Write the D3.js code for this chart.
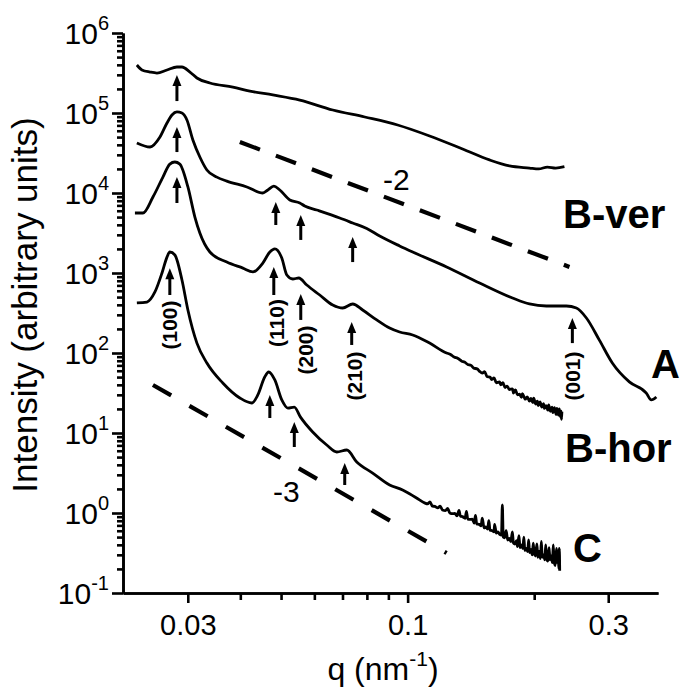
<!DOCTYPE html>
<html>
<head>
<meta charset="utf-8">
<script src="https://cdn.jsdelivr.net/npm/d3@7"></script>
<style>
body { margin: 0; background: #fff; }
svg { font-family: Arial, "Liberation Sans", sans-serif; }
</style>
</head>
<body>
<div id="viz"></div>
<script>
// curves: [q (nm^-1), intensity]
var curveBver = [
  [0.0227,3.98e5],[0.02334,3.45e5],[0.0244,3.25e5],[0.02534,3.16e5],[0.02677,3.45e5],
  [0.02827,3.76e5],[0.02906,3.76e5],[0.03036,3.25e5],[0.03154,2.74e5],[0.03386,2.37e5],
  [0.0384,2.11e5],[0.04215,1.88e5],[0.04779,1.68e5],[0.0554,1.45e5],[0.06636,1.09e5],
  [0.07906,8.91e4],[0.09467,7.08e4],[0.1128,5.16e4],[0.1351,3.55e4],[0.1566,2.59e4],
  [0.1747,2.18e4],[0.1949,2.05e4],[0.205,2.0e4],[0.215,2.11e4],[0.225,2.05e4],[0.236,2.13e4]
];
var curveA = [
  [0.0227,4.22e4],[0.0244,3.76e4],[0.02576,5.01e4],[0.02677,7.5e4],[0.02751,9.44e4],
  [0.02827,1.03e5],[0.02906,1.0e5],[0.02986,8.18e4],[0.03085,4.6e4],[0.03205,2.82e4],
  [0.03331,1.94e4],[0.03518,1.58e4],[0.03715,1.41e4],[0.04147,1.19e4],[0.04524,1.0e4],
  [0.0465,1.09e4],[0.04805,1.22e4],[0.04966,1.09e4],[0.05245,8.18e3],[0.0554,7.5e3],
  [0.05691,6.88e3],[0.06079,6.13e3],[0.06895,4.87e3],[0.07401,4.22e3],[0.07995,3.6e3],
  [0.08582,2.9e3],[0.0957,2.18e3],[0.1028,1.83e3],[0.1238,1.19e3],[0.1483,750],
  [0.1776,487],[0.1949,410],[0.2138,387],[0.2386,387],[0.252,365],[0.2662,274],
  [0.2858,145],[0.3068,75],[0.3368,43.5],[0.3696,31.6],[0.3799,25.9],[0.3905,28.2]
];
var curveBhor = [
  [0.02246,5.62e3],[0.02347,5.62e3],[0.02479,8.91e3],[0.02618,1.58e4],[0.02719,2.3e4],
  [0.02795,2.44e4],[0.02872,2.3e4],[0.03002,1.19e4],[0.03119,5.01e3],[0.03205,3.16e3],
  [0.03386,1.83e3],[0.03715,1.37e3],[0.04057,1.15e3],[0.04286,1.03e3],[0.04524,1.33e3],
  [0.04702,1.83e3],[0.04832,2.0e3],[0.0502,1.54e3],[0.05161,944],[0.05332,841],
  [0.0551,866],[0.05757,708],[0.0618,531],[0.06636,398],[0.07009,365],[0.07401,410],
  [0.07817,345],[0.08443,259],[0.09062,205],[0.0957,183],[0.1028,168],[0.1128,133],
  [0.1238,100],[0.1265,96],[0.129,89],[0.1315,86],[0.1345,79],[0.1365,77],[0.139,72],
  [0.1415,70],[0.1435,65],[0.1465,63],[0.1483,59],[0.1505,56],[0.1525,58.5],[0.1545,50.5],
  [0.157,50],[0.1585,46.5],[0.1605,49],[0.1625,42.5],[0.1654,43.5],[0.1665,40],[0.1685,42.5],
  [0.1705,37],[0.1725,38.5],[0.1745,35],[0.1776,35.5],[0.1785,31.5],[0.1805,34.5],[0.1825,30],
  [0.1845,30.5],[0.1865,28],[0.1875,31],[0.1905,26.5],[0.1925,28.3],[0.1949,25],
  [0.1965,27],[0.1985,24],[0.1995,27.3],[0.2015,23],[0.2035,25],[0.2045,22],
  [0.2065,24.5],[0.2085,21],[0.2105,23.3],[0.2115,20.3],[0.2135,22],[0.2155,19.3],
  [0.2165,22.5],[0.2185,18.7],[0.2205,21],[0.2215,18],[0.2235,20.7],[0.2255,17],
  [0.2265,20.3],[0.2285,16.7],[0.2295,20],[0.2308,16],[0.2318,18.7],[0.2322,14.8],
  [0.2328,18.5]
];
var curveC = [
  [0.0227,422],[0.02399,434],[0.02506,579],[0.02605,1000],[0.02677,1.58e3],
  [0.02719,1.83e3],[0.02795,1.68e3],[0.02906,818],[0.03002,345],[0.03154,133],
  [0.03331,75],[0.03634,42.2],[0.0399,27.4],[0.04261,23.7],[0.04402,29.9],
  [0.04572,50.1],[0.04673,57.9],[0.04832,46],[0.0502,25.9],[0.05189,20.5],
  [0.05376,21.1],[0.05562,15.8],[0.05946,10.3],[0.06422,7.08],[0.06785,5.79],
  [0.07166,6.13],[0.07568,4.34],[0.08258,3.16],[0.09062,2.24],[0.0973,1.94],
  [0.105,1.54],[0.11,1.33],[0.1115,1.3],[0.113,1.38],[0.1145,1.22],[0.116,1.21],
  [0.118,1.16],[0.1195,1.22],[0.121,1.09],[0.123,1.07],[0.1245,1.14],[0.126,1.0],
  [0.128,0.98],[0.1295,0.99],[0.131,0.92],[0.1325,1.08],[0.1335,0.91],[0.135,0.9],
  [0.137,0.86],[0.138,1.05],[0.139,0.84],[0.141,0.83],[0.1425,0.84],[0.144,0.75],
  [0.145,0.93],[0.146,0.73],[0.148,0.72],[0.1495,0.69],[0.1505,0.86],[0.152,0.65],
  [0.1535,0.67],[0.155,0.63],[0.156,0.8],[0.157,0.61],[0.159,0.6],[0.1605,0.58],
  [0.161,0.72],[0.1625,0.56],[0.164,0.58],[0.1655,0.54],[0.1672,0.53],[0.168,1.26],
  [0.1688,0.5],[0.17,0.49],[0.1715,0.6],[0.173,0.46],[0.1745,0.48],[0.176,0.44],
  [0.1775,0.58],[0.1785,0.42],[0.18,0.41],[0.1815,0.45],[0.1825,0.38],[0.184,0.52],
  [0.185,0.37],[0.1865,0.4],[0.188,0.36],[0.189,0.5],[0.19,0.34],[0.1915,0.36],
  [0.193,0.33],[0.194,0.46],[0.195,0.32],[0.1965,0.35],[0.198,0.3],[0.199,0.42],
  [0.2,0.31],[0.2015,0.29],[0.203,0.41],[0.204,0.28],[0.2055,0.33],[0.207,0.27],
  [0.208,0.44],[0.209,0.28],[0.2105,0.3],[0.212,0.26],[0.213,0.4],[0.214,0.27],
  [0.2155,0.25],[0.217,0.37],[0.218,0.26],[0.2195,0.29],[0.221,0.24],[0.222,0.4],
  [0.223,0.25],[0.2245,0.22],[0.226,0.36],[0.227,0.24],[0.228,0.29],[0.229,0.2],
  [0.2295,0.36],[0.23,0.19]
];
var curves = [curveBver, curveA, curveBhor, curveC];
var curveNames = ["B-ver", "A", "B-hor", "C"];

// arrows: [q, intensity at tip, intensity at tail]
var arrows = [
  [0.02827,2.99e5,1.41e5],
  [0.02827,6.68e4,3.25e4],[0.04858,7.72e3,3.98e3],[0.0557,5.31e3,2.59e3],
  [0.07401,2.82e3,1.37e3],[0.2465,274,133],
  [0.02827,1.58e4,7.5e3],[0.04805,1.19e3,531],[0.0557,546,259],[0.07362,244,126],
  [0.02719,1.15e3,531],[0.04702,29.9,15.4],[0.05376,13.7,6.68],[0.07086,4.22,2.24]
];
// reflection labels: [text, q, intensity]
var peakLabels = [
  ["(100)",0.02719,224],["(110)",0.04884,237],["(200)",0.05725,109],
  ["(210)",0.07484,51.6],["(001)",0.2465,51.6]
];
// power-law guides: [[q0, I0], [q1, I1]]
var slope2 = [[0.0399,4.34e4],[0.2426,1.19e3]];
var slope3 = [[0.02479,39.8],[0.1238,0.316]];

var xMajor = [0.03, 0.1, 0.3];
var xMinor = [0.04, 0.05, 0.06, 0.07, 0.08, 0.09, 0.2];
var yMajor = [1e-1, 1e0, 1e1, 1e2, 1e3, 1e4, 1e5, 1e6];
var yExp = ["-1", "0", "1", "2", "3", "4", "5", "6"];

var width = 683, height = 690;
var svg = d3.select('#viz').append('svg')
    .attr('width', width)
    .attr('height', height);

var x = d3.scaleLog().domain([0.02104, 0.394]).range([123, 658]);
var y = d3.scaleLog().domain([0.1, 1e6]).range([593, 33]);

var yMinor = [];
yMajor.slice(0, -1).forEach(function(d) {
    for (var k = 2; k < 10; k++) yMinor.push(d * k);
});

// axes
var gx = svg.append('g').attr('transform', 'translate(0,593)');
gx.call(d3.axisBottom(x).tickValues(xMinor).tickSize(7).tickSizeOuter(0).tickFormat(''));
gx.append('g').call(d3.axisBottom(x).tickValues(xMajor).tickSize(10).tickSizeOuter(0)
    .tickFormat(d3.format('')));
gx.selectAll('path,line').attr('stroke', '#000').attr('stroke-width', 2.6);
gx.selectAll('text').attr('fill', '#000').style('font-size', '29px').attr('dy', '0.95em')
    .attr('y', 14);

var gy = svg.append('g').attr('transform', 'translate(123,0)');
gy.call(d3.axisLeft(y).tickValues(yMinor).tickSize(6).tickSizeOuter(0).tickFormat(''));
gy.append('g').call(d3.axisLeft(y).tickValues(yMajor).tickSize(11).tickSizeOuter(0).tickFormat(''));
gy.selectAll('path,line').attr('stroke', '#000').attr('stroke-width', 2.6);

yMajor.forEach(function(v, i) {
    var t = svg.append('text')
        .attr('x', 109)
        .attr('y', y(v) + 11)
        .attr('text-anchor', 'end')
        .style('font-size', '30px');
    t.append('tspan').text('10');
    t.append('tspan').attr('dy', -14).style('font-size', '20px').text(yExp[i]);
});

// axis titles
svg.append('text')
    .attr('transform', 'translate(37,305) rotate(-90)')
    .attr('text-anchor', 'middle')
    .style('font-size', '35px')
    .text('Intensity (arbitrary units)');

var xt = svg.append('text')
    .attr('x', 383)
    .attr('y', 680)
    .attr('text-anchor', 'middle')
    .style('font-size', '32px');
xt.append('tspan').text('q (nm');
xt.append('tspan').attr('dy', -14).style('font-size', '21px').text('-1');
xt.append('tspan').attr('dy', 14).text(')');

// data curves
var valueline = d3.line()
    .x(function(d) { return x(d[0]); })
    .y(function(d) { return y(d[1]); })
    .curve(d3.curveMonotoneX);

curves.forEach(function(c, i) {
    svg.append('path')
        .attr('class', 'curve-' + i)
        .attr('d', valueline(c))
        .attr('fill', 'none')
        .attr('stroke', '#000')
        .attr('stroke-width', 2.8)
        .attr('stroke-linejoin', 'round');
});

// slope guides
var straight = d3.line()
    .x(function(d) { return x(d[0]); })
    .y(function(d) { return y(d[1]); });
svg.append('path').attr('d', straight(slope2))
    .attr('stroke', '#000').attr('stroke-width', 4.2).attr('fill', 'none')
    .attr('stroke-dasharray', '21.5,17');
svg.append('path').attr('d', straight(slope3))
    .attr('stroke', '#000').attr('stroke-width', 4.2).attr('fill', 'none')
    .attr('stroke-dasharray', '21,21');

svg.append('text').attr('x', 383).attr('y', 190).style('font-size', '30px').text('-2');
svg.append('text').attr('x', 273).attr('y', 502).style('font-size', '30px').text('-3');

// arrows
arrows.forEach(function(a) {
    var ax = x(a[0]), tip = y(a[1]), tail = y(a[2]);
    var head = 11;
    svg.append('line')
        .attr('x1', ax).attr('x2', ax)
        .attr('y1', tail).attr('y2', tip + head - 1)
        .attr('stroke', '#000').attr('stroke-width', 3);
    svg.append('path')
        .attr('d', 'M' + (ax - 4.5) + ',' + (tip + head) + 'L' + (ax + 4.5) + ',' + (tip + head) +
            'L' + ax + ',' + tip + 'Z')
        .attr('fill', '#000');
});

peakLabels.forEach(function(p) {
    svg.append('text')
        .attr('transform', 'translate(' + x(p[1]) + ',' + y(p[2]) + ') rotate(-90)')
        .attr('text-anchor', 'middle')
        .attr('dominant-baseline', 'central')
        .style('font-size', '21px')
        .style('font-weight', 'bold')
        .text(p[0]);
});

// sample names
var namePos = [[563, 228], [651, 378], [565, 462], [573, 562]];
curveNames.forEach(function(n, i) {
    svg.append('text')
        .attr('x', namePos[i][0])
        .attr('y', namePos[i][1])
        .style('font-size', '40px')
        .style('font-weight', 'bold')
        .text(n);
});
</script>
</body>
</html>
